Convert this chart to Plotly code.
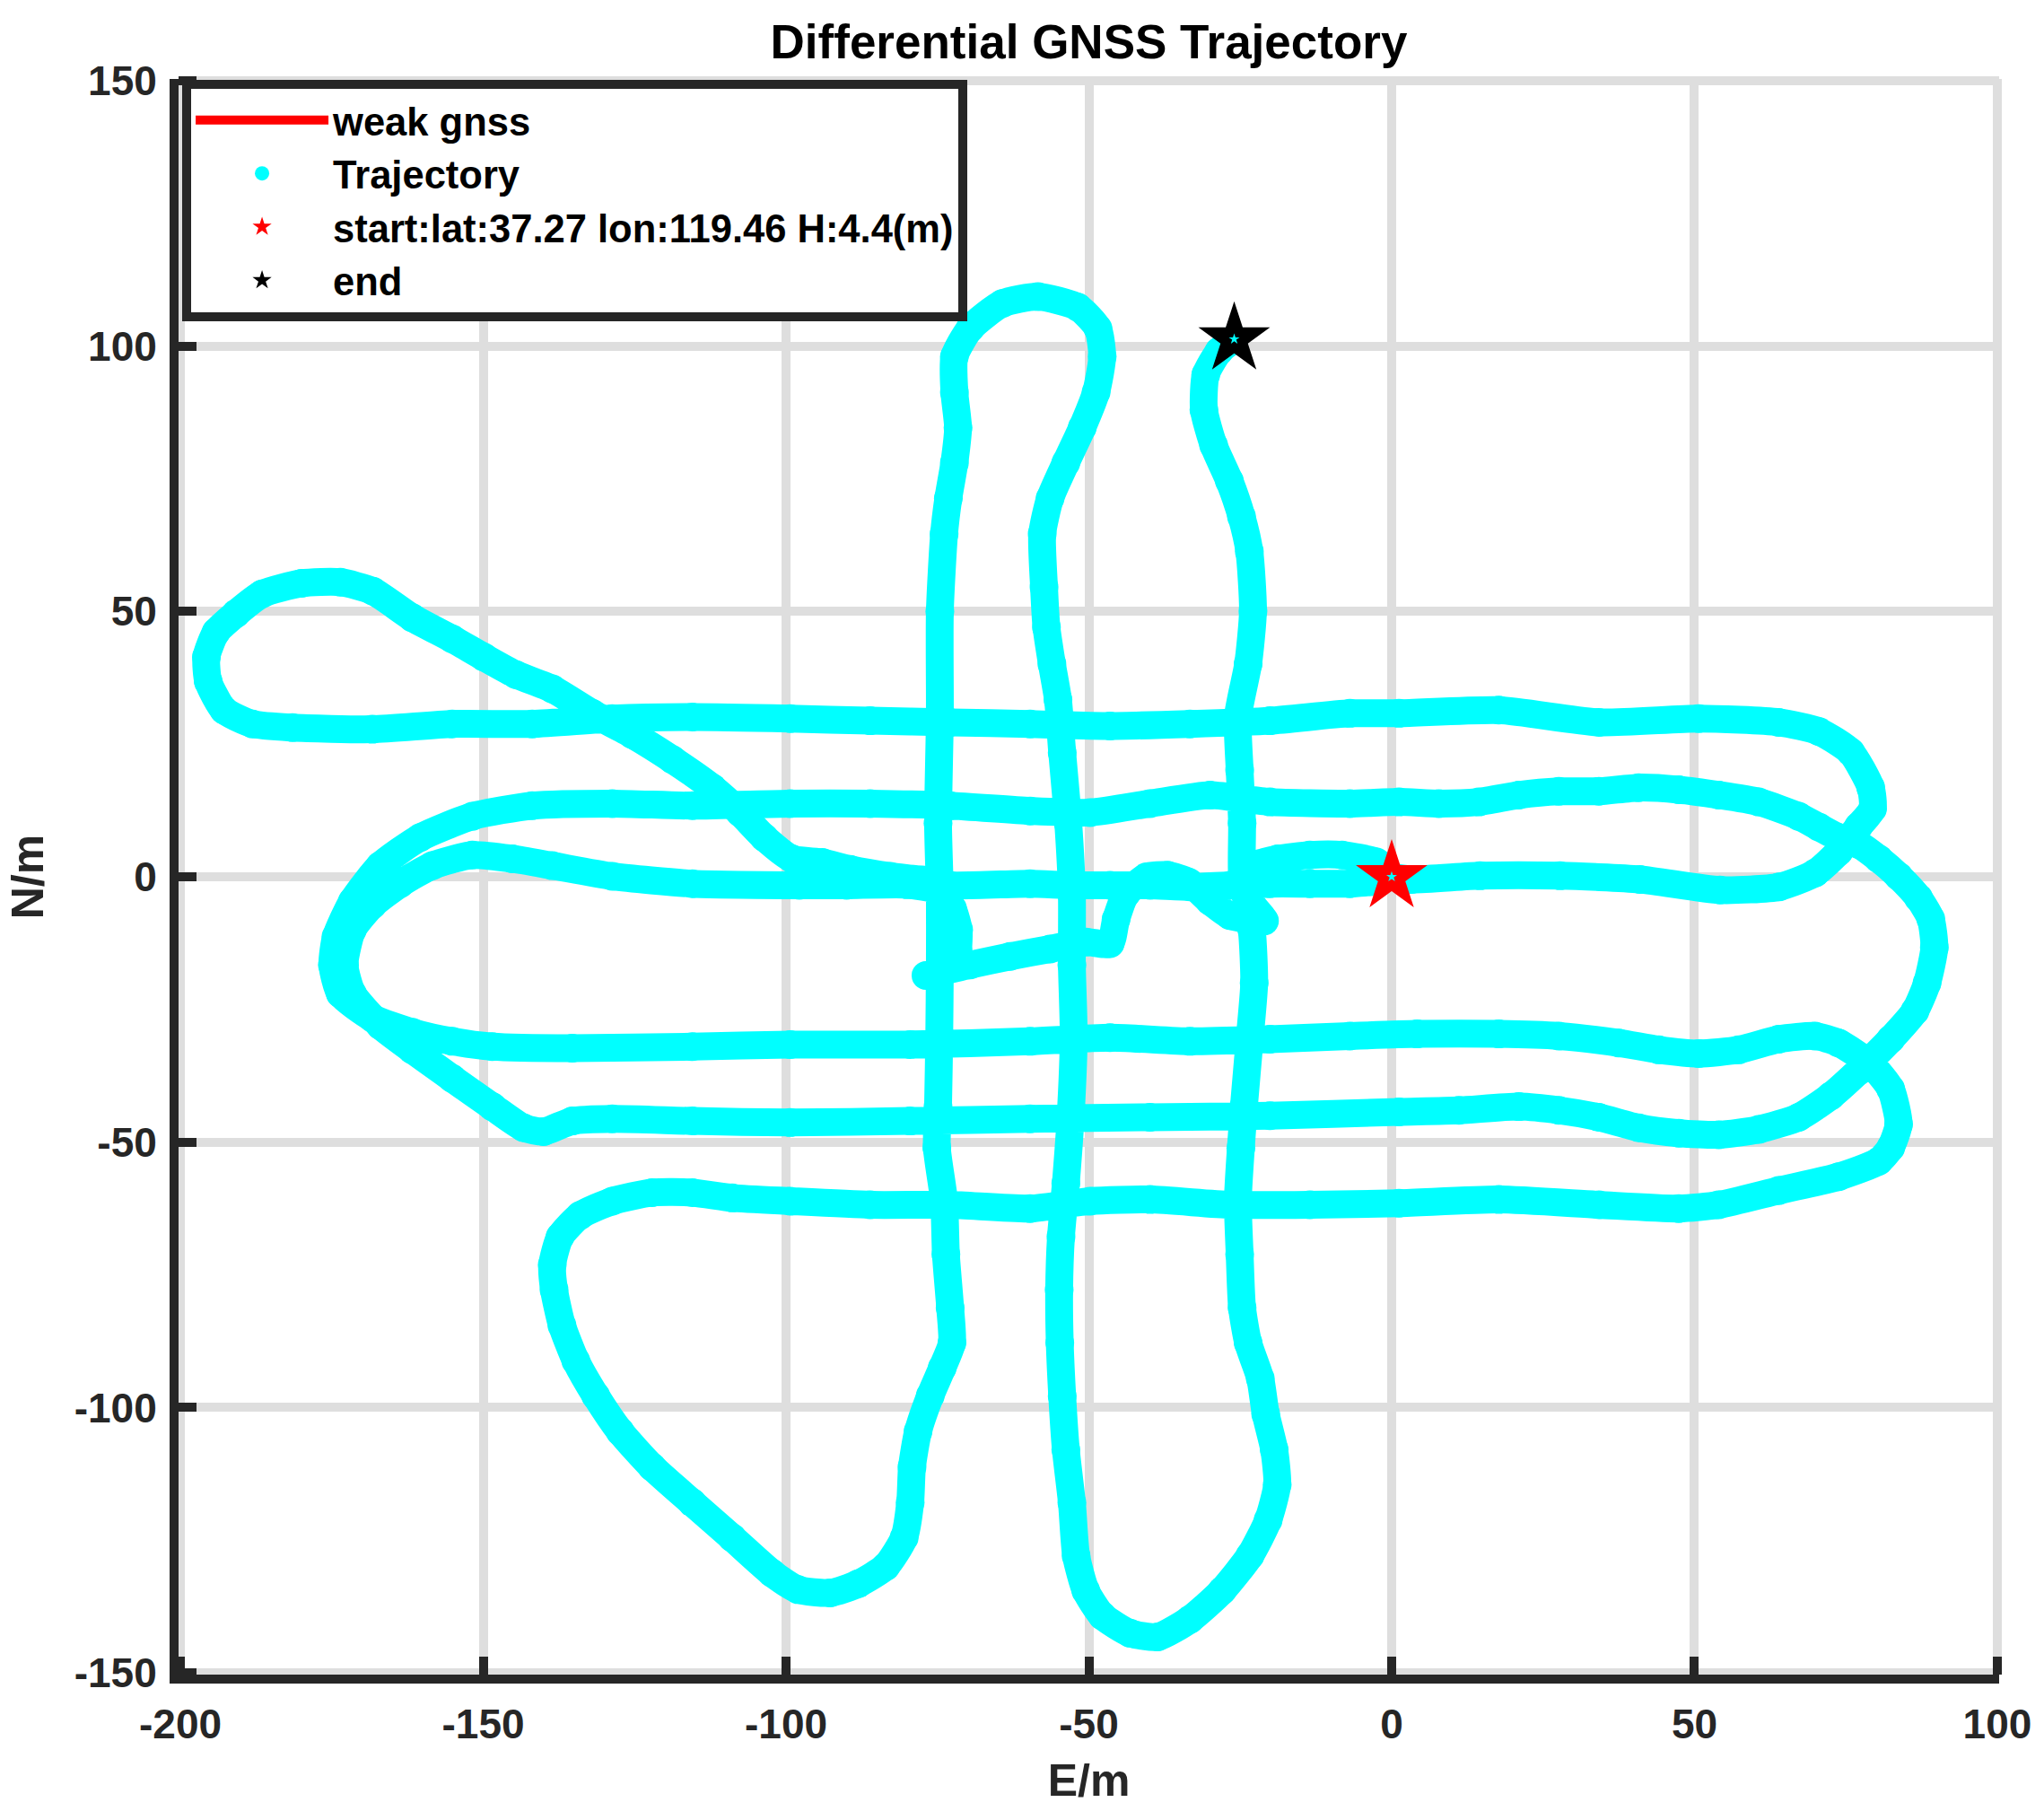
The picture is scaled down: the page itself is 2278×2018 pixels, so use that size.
import plotly.graph_objects as go

# start / end markers (E, N in metres)
start_e, start_n = [0.0], [0.0]
end_e, end_n = [-26.0], [101.3]

# axis ticks
x_ticks = [-200, -150, -100, -50, 0, 50, 100]
x_labels = ["-200", "-150", "-100", "-50", "0", "50", "100"]
y_ticks = [-150, -100, -50, 0, 50, 100, 150]
y_labels = ["-150", "-100", "-50", "0", "50", "100", "150"]

# trajectory. run1 is drawn on its own, run2 and run3 join up
run1_e = [0, 3.3, 14.6, 27.8, 41, 54.2, 64, 69.9, 73.8, 77.1, 79.4, 79.1, 75.8, 70.5, 63.9, 50.7,
          34.2, 17.7, 1.2, -6.9, -20.1, -33.3, -46.5, -59.7, -72.9, -86.1, -99.3, -115.5, -128.7,
          -141.9, -155.1, -168.3, -181.5, -188.1, -192.8, -195.4, -195.7, -194.1, -190.8, -186.5,
          -180, -173.6, -168.2, -161.7, -155.1, -149.9, -144.6, -138.6, -132, -125.4, -118.8,
          -112.2, -107.6, -103.6, -99, -94, -89.4, -82.8, -77.5, -72.9, -59.7, -53.1, -46.5, -39.9,
          -33.3, -26.7, -20.1, -13.5, -6.9, -3.2, -0.8, -2.5, -8.2, -13.5, -18.8, -22.1, -24.5,
          -23.5, -21, -24, -26.7, -30, -33.5, -37, -40.5, -43.9, -45.5, -46.5, -50.5, -56.4, -63,
          -69.6, -76.9]
run1_n = [0, -0.5, 0.2, 0.2, -0.5, -2.5, -1.9, 0.7, 4.7, 9.5, 12.8, 16.8, 23.5, 27.4, 29.1, 29.8,
          29.1, 31.4, 30.8, 30.8, 29.4, 28.8, 28.4, 28.8, 29.1, 29.4, 29.8, 30.1, 29.8,
          28.8, 28.8, 27.8, 28.1, 28.8, 31.4, 36.8, 41.4, 46.1, 49.6, 53.3,
          55.3, 55.5, 53.8, 48.8, 44.8, 41.4, 38.1, 35.4, 30.8, 26.8, 22.1,
          16.8, 12.1, 7.4, 3.4, 2.7, 1.4, 0.1, -0.6, -1.6, -1.3, -1.6, -1.6, -1.6,
          -1.9, -1.6, -1.3, -1.3, -1.3, -0.9, 0.8, 2.8, 4.1, 4.1, 3.4, 2.4, 0.5,
          -4.5, -8.3, -8, -7.3, -4.6, -1.0, 0.3, 0.0, -3.3, -8, -12.6, -12.3, -13.6, -15,
          -16.6, -18.6]

run2_e = [-71.6, -71.5, -72.5, -75, -80, -90, -97.8, -115.5, -128.7, -138.6, -145.2, -151.8, -158.4,
          -163.7, -168.3, -171.6, -172.9, -171.6, -167, -161.7, -155.1, -148.5, -143.3, -140,
          -135.3, -128.7, -115.5, -99.3, -79.5, -59.7, -39.9, -20.1, 1.2, 11.1, 21, 27.6, 34.2,
          40.8, 47.4, 54, 60.6, 67.2, 72.5, 77.1, 82.4, 86.4, 88.4, 89.6, 89, 87, 83.7, 80.4, 77.1,
          73.8, 70.5, 67.2, 60.6, 54, 47.4, 40.8, 34.2, 27.6, 21, 14.4, 7.8, 1.2, -6.9, -20.1, -30,
          -39.9, -49.8, -59.7, -72.9, -86.1, -99.3, -115.5, -128.7, -141.9, -151.8, -160.4, -167,
          -171.6, -174.3, -174.9, -173.6, -168.3, -161.7, -155.1, -148.5, -135.3, -115.5, -99.3,
          -79.5, -59.7, -46.5, -33.3, -20.1, -6.9, 4.2, 17.7, 27.6, 37.5, 44.1, 50.7, 57.3, 63.9,
          69.9, 73.8, 79.1, 82.4, 83.7]
run2_n = [-14, -10, -6, -2.6, -1.5, -1.6, -1.6, -1.3, 0.1, 2.1, 3.4, 4.1, 2.1,
          -1.3, -5.3, -10, -16.6, -22, -28, -32.6, -38, -43.3, -47.3, -48,
          -46, -45.6, -46, -46.3, -46, -45.6, -45.3, -45, -44.3, -44, -43.3, -44, -45.3,
          -47.3, -48.3, -48.6, -47.6, -45.3, -41.3, -36.6, -30.6, -25.3, -20, -13.3, -7.9, -4, 0.1, 3.4, 6.1,
          7.4, 9.4, 11.4, 14.1, 15.4, 16.4, 16.8, 16.1, 16.1, 15.4, 14.1, 13.8, 14.1, 13.8, 14.1, 15.4,
          13.8, 12.1, 12.4, 13.4, 13.8, 13.8, 13.4, 13.8, 13.4, 11.4, 7.4, 2.1,
          -4.6, -11.3, -16.6, -22, -26.6, -29.3, -31, -32, -32.3, -32, -31.6,
          -31.6, -31, -30.3, -31, -30.6, -30, -29.6, -29.6, -30, -31.3, -32.6, -33.3, -32.6, -30.6,
          -30, -31.3, -35.3, -40, -46.6]

run3_e = [82.4, 80.4, 73.8, 63.9, 54, 47.4, 34.2, 17.7, 1.2, -13.5, -26.7, -39.9, -49.8, -59.7,
          -72.9, -86.1, -99.3, -108.9, -115.5, -122.1, -128.7, -134, -137.3, -138.6, -138.3, -137,
          -134.7, -131.4, -127.4, -122.1, -115.5, -108.9, -102.3, -98, -92.7, -88.1, -83.5, -80.5,
          -79.5, -79.2, -78.2, -76.2, -74.2, -72.6, -72.9, -73.6, -73.9, -75.1, -74.9, -74.7,
          -74.6, -74.6, -74.9, -74.6, -74.6, -73.9, -73.2, -72.2, -71.6, -72.2, -72.2, -69.6, -64.3,
          -58.4, -51.8, -48.5, -47.8, -48.8, -51.1, -53.8, -56.4, -57.7, -57.4, -57, -56.1, -55.1,
          -54.4, -53.4, -52.8, -52.8, -52.5, -53, -53.8, -54.6, -54.9, -54.8, -54.4, -53.8, -52.8,
          -52.1, -50.5, -47.8, -43.2, -38.6, -33.3, -28, -23.4, -20.4, -18.9, -19.4, -20.8, -21.7,
          -23.7, -24.7, -25.1, -25.4, -24.9, -24.4, -23.4, -22.7, -23.1, -24.7, -24.7, -25.1, -25.4,
          -23.7, -22.9, -23.5, -24.8, -26.8, -29.4, -31, -30.7, -28.5, -26]
run3_n = [-51, -53.6, -56.5, -59.1, -61.8, -62.5, -61.8, -60.8, -61.5, -61.8, -61.8, -60.8, -61.1, -62.5,
          -61.8, -61.8, -61.1, -60.5, -59.5, -59.5, -61.1, -63.8, -67.8, -73.1, -77.8, -84.5,
          -91.2, -97.8, -104.5, -111.2, -117.9, -124.5, -131.2, -134.3, -134.9, -133.2, -129.9, -124.5,
          -117.9, -111.2, -104.5, -97.8, -92.5, -87.8, -81.2, -71.1, -61.1, -51, -43.3, -30,
          -16.6, -3.3, 10.1, 30, 50, 64.6, 71.3, 78, 84.6, 91.3, 98, 103.3, 108,
          109.3, 107.3, 103.3, 98, 91.3, 84.6, 78, 71.3, 64.6, 54.6, 47, 40.1, 33.4,
          23.4, 10.1, -3.3, -16.6, -30, -45, -57.8, -67.8, -77.8, -87.8, -97.8, -107.9, -117.9,
          -127.9, -134.5, -139.2, -142.5, -143.2, -139.9, -134.5, -127.9, -121.2, -114.5, -107.9, -101.2, -94.5,
          -87.8, -81.2, -71.1, -61.1, -51.1, -43.3, -30, -20, -9.9, 0.1, 10.1, 20.1, 30.1,
          40.1, 50.1, 61.3, 67.9, 74.6, 81.3, 88, 94.6, 99, 101.3]

traj_e = run1_e + [None] + run2_e + run3_e
traj_n = run1_n + [None] + run2_n + run3_n

font_main = "Liberation Sans, Arial, sans-serif"
cyan = "#00ffff"
dark = "#262626"

fig = go.Figure()

# thick line under the markers so the dense dots look continuous
fig.add_trace(go.Scatter(x=traj_e, y=traj_n, mode="lines",
                         line=dict(color=cyan, width=31, shape="spline", smoothing=0.6),
                         showlegend=False, hoverinfo="skip"))

fig.add_trace(go.Scatter(x=[None], y=[None], mode="lines", name="weak gnss",
                         line=dict(color="red", width=10), legendrank=1))

fig.add_trace(go.Scatter(x=traj_e, y=traj_n, mode="markers", name="Trajectory",
                         marker=dict(color=cyan, size=32), legendrank=2))

fig.add_trace(go.Scatter(x=start_e, y=start_n, mode="markers", name="start:lat:37.27 lon:119.46 H:4.4(m)",
                         marker=dict(symbol="star", color="red", size=60, line=dict(width=0)), legendrank=3))

fig.add_trace(go.Scatter(x=end_e, y=end_n, mode="markers", name="end",
                         marker=dict(symbol="star", color="black", size=60, line=dict(width=0)), legendrank=4))

# the little cyan star in the middle of both markers
fig.add_trace(go.Scatter(x=start_e + end_e, y=start_n + end_n, mode="markers", showlegend=False,
                         marker=dict(symbol="star", color=cyan, size=9), hoverinfo="skip"))

axis_style = dict(
    showgrid=True, gridcolor="#dedede", gridwidth=10,
    showline=True, linecolor=dark, linewidth=10, mirror=False,
    ticks="inside", ticklen=20, tickwidth=10, tickcolor=dark,
    zeroline=False,
    tickfont=dict(size=46, family=font_main, color=dark, weight="bold"),
)

fig.update_xaxes(range=[-200.3, 100.3], tickvals=x_ticks, ticktext=x_labels, ticklabelstandoff=6,
                 title=dict(text="E/m", font=dict(size=50, family=font_main, color=dark, weight="bold"), standoff=24),
                 **axis_style)
fig.update_yaxes(range=[-150.3, 150.3], tickvals=y_ticks, ticktext=y_labels, ticklabelstandoff=5,
                 title=dict(text="N/m", font=dict(size=50, family=font_main, color=dark, weight="bold"), standoff=22),
                 **axis_style)

fig.update_layout(
    width=2278, height=2018,
    margin=dict(l=199, r=50, t=88, b=152),
    paper_bgcolor="white", plot_bgcolor="white",
    title=dict(text="Differential GNSS Trajectory", x=0.5, xref="paper", xanchor="center",
               y=1 - 46 / 2018, yref="container", yanchor="middle",
               font=dict(size=53, family=font_main, color="black", weight="bold")),
    legend=dict(x=0.002, y=0.9995, xanchor="left", yanchor="top", bgcolor="white",
                bordercolor=dark, borderwidth=10, itemwidth=148, tracegroupgap=0,
                font=dict(size=43.5, family=font_main, color="black", weight="bold")),
    showlegend=True,
)

fig.write_html("out.html", config={"displayModeBar": False},
               post_script="document.body.style.margin='0';")
